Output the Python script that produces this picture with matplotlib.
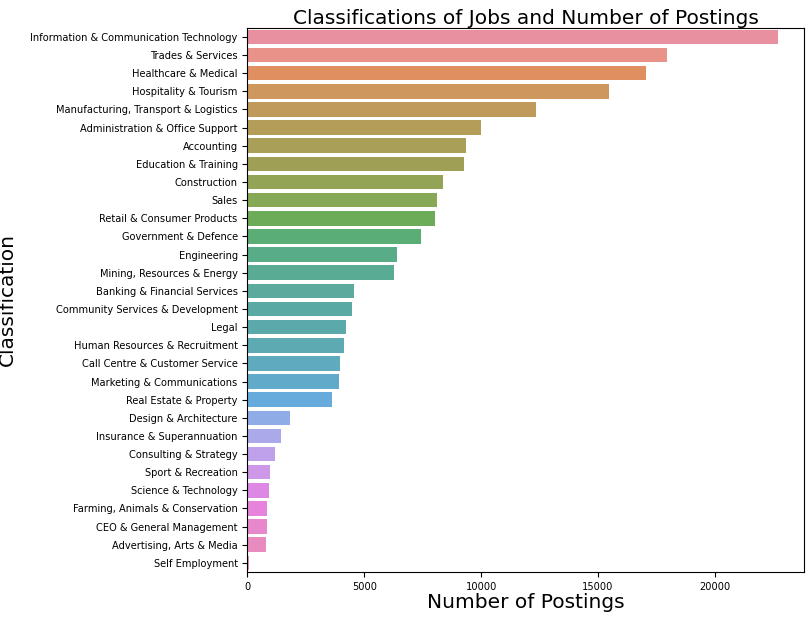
import matplotlib
matplotlib.use('Agg')
import matplotlib.pyplot as plt
import seaborn as sns

classifications = ['Information & Communication Technology', 'Trades & Services', 'Healthcare & Medical',
                   'Hospitality & Tourism', 'Manufacturing, Transport & Logistics',
                   'Administration & Office Support', 'Accounting', 'Education & Training', 'Construction',
                   'Sales', 'Retail & Consumer Products', 'Government & Defence', 'Engineering',
                   'Mining, Resources & Energy', 'Banking & Financial Services',
                   'Community Services & Development', 'Legal', 'Human Resources & Recruitment',
                   'Call Centre & Customer Service', 'Marketing & Communications', 'Real Estate & Property',
                   'Design & Architecture', 'Insurance & Superannuation', 'Consulting & Strategy',
                   'Sport & Recreation', 'Science & Technology', 'Farming, Animals & Conservation',
                   'CEO & General Management', 'Advertising, Arts & Media', 'Self Employment']
postings = [22700, 17950, 17050, 15450, 12350, 9980, 9350, 9250, 8350, 8100, 8020, 7430, 6420, 6260,
            4580, 4460, 4200, 4120, 3950, 3940, 3600, 1810, 1460, 1200, 950, 910, 860, 820, 810, 80]

# lighten the desaturated husl palette a little
base = sns.color_palette('husl', len(classifications), desat=0.75)
colors = [tuple(c * 0.88 + 0.12 for c in col) for col in base]

fig = plt.figure(figsize=(8.11, 6.19), dpi=100)
ax = fig.add_axes([0.305, 0.076, 0.686, 0.879])
ax.barh(range(len(classifications)), postings, height=0.8, color=colors)
ax.set_yticks(range(len(classifications)))
ax.set_yticklabels(classifications, fontsize=7.1)
ax.tick_params(axis='x', labelsize=7.1)
ax.set_ylim(len(classifications) - 0.5, -0.5)
ax.set_xlim(0, 23800)
ax.set_title('Classifications of Jobs and Number of Postings', fontsize=14.5, pad=3)
ax.set_xlabel('Number of Postings', fontsize=14.5, labelpad=1)
ax.set_ylabel('Classification', fontsize=14.5)
ax.yaxis.set_label_coords(-0.415, 0.5)

fig.savefig('out.png')
